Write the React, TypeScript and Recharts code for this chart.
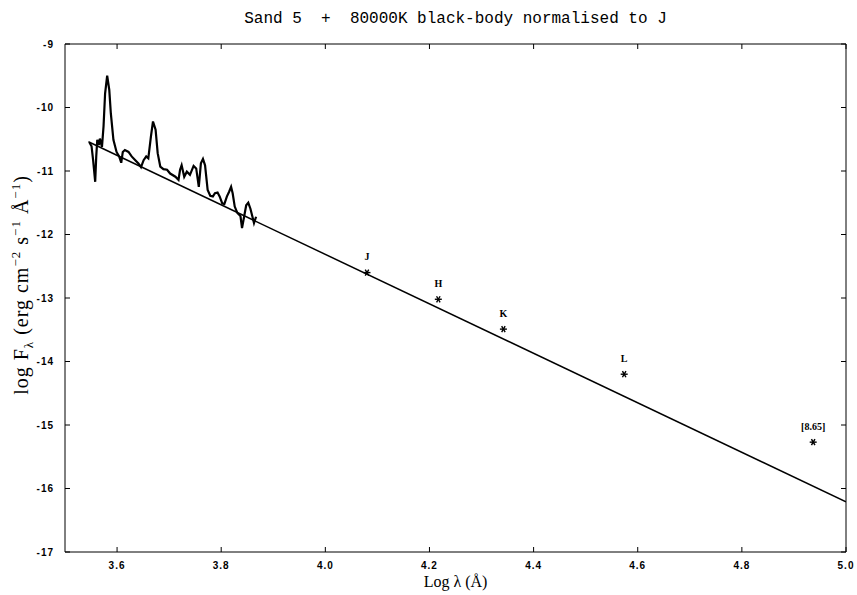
import { ComposedChart, Line, Scatter, XAxis, YAxis, LabelList } from 'recharts'

// spectrum of Sand 5 (log lambda / log F_lambda)
const specLogLambda = [
  3.547, 3.551, 3.554, 3.558, 3.560, 3.562, 3.565, 3.567, 3.571, 3.574, 3.577, 3.581, 3.585, 3.588,
  3.593, 3.599, 3.604, 3.608, 3.611, 3.615, 3.622, 3.628, 3.635, 3.641, 3.646, 3.651, 3.656, 3.660,
  3.665, 3.669, 3.674, 3.678, 3.683, 3.689, 3.696, 3.702, 3.712, 3.718, 3.721, 3.724, 3.729, 3.734,
  3.740, 3.747, 3.752, 3.757, 3.761, 3.765, 3.769, 3.774, 3.779, 3.784, 3.788, 3.793, 3.797, 3.802,
  3.806, 3.811, 3.815, 3.819, 3.822, 3.826, 3.831, 3.837, 3.840, 3.844, 3.848, 3.852, 3.856, 3.860,
  3.863, 3.867,
]
const specLogFlux = [
  -10.55, -10.61, -10.83, -11.17, -10.77, -10.51, -10.59, -10.49, -10.62, -10.30, -9.78, -9.50, -9.72, -10.09,
  -10.51, -10.70, -10.77, -10.87, -10.70, -10.67, -10.70, -10.77, -10.83, -10.88, -10.94, -10.83, -10.77, -10.80,
  -10.46, -10.22, -10.35, -10.72, -10.93, -10.97, -10.98, -11.04, -11.09, -11.14, -10.98, -10.91, -11.09, -11.01,
  -11.06, -10.92, -10.96, -11.25, -10.88, -10.81, -10.91, -11.30, -11.39, -11.40, -11.35, -11.34, -11.40, -11.51,
  -11.52, -11.40, -11.33, -11.25, -11.35, -11.56, -11.66, -11.71, -11.90, -11.72, -11.54, -11.50, -11.59, -11.72,
  -11.82, -11.72,
]

// 80000K black-body normalised to J
const bbLogLambda = [3.545, 5.0]
const bbLogFlux = [-10.54, -16.21]

// photometry
const bandNames = ['J', 'H', 'K', 'L', '[8.65]']
const bandLogLambda = [4.08, 4.217, 4.342, 4.574, 4.937]
const bandLogFlux = [-12.6, -13.02, -13.49, -14.2, -15.27]

const xTicks = [3.6, 3.8, 4.0, 4.2, 4.4, 4.6, 4.8, 5.0]
const yTicks = [-17, -16, -15, -14, -13, -12, -11, -10, -9]

const spectrum = specLogLambda.map((x, i) => ({ x, y: specLogFlux[i] }))
const blackBody = bbLogLambda.map((x, i) => ({ x, y: bbLogFlux[i] }))
const photometry = bandNames.map((name, i) => ({ name, x: bandLogLambda[i], y: bandLogFlux[i] }))

const tickFont = { fontFamily: 'Liberation Sans, Arial, sans-serif', fontSize: 10, fontWeight: 700, fill: '#000', letterSpacing: 1 }
const TL = 5 // inward tick length

// ticks point into the plot; tickSize/tickMargin are 0 so x/y sit on the axis line
function BottomTick({ x, y, payload }: any) {
  return (
    <g>
      <line x1={x} y1={y} x2={x} y2={y - TL} stroke="#000" />
      <text x={x} y={y + 17} textAnchor="middle" style={tickFont}>{Number(payload.value).toFixed(1)}</text>
    </g>
  )
}
function TopTick({ x, y }: any) {
  return <line x1={x} y1={y} x2={x} y2={y + TL} stroke="#000" />
}
function LeftTick({ x, y, payload }: any) {
  return (
    <g>
      <line x1={x} y1={y} x2={x + TL} y2={y} stroke="#000" />
      <text x={x - 11} y={y + 3.5} textAnchor="end" style={tickFont}>{String(payload.value)}</text>
    </g>
  )
}
function RightTick({ x, y }: any) {
  return <line x1={x} y1={y} x2={x - TL} y2={y} stroke="#000" />
}

function Asterisk(props: any) {
  const { cx, cy } = props
  const r = 3.5
  const dx = r * 0.5
  const dy = r * 0.87
  return (
    <g stroke="#000" strokeWidth={1.4}>
      <line x1={cx - r} y1={cy} x2={cx + r} y2={cy} />
      <line x1={cx - dx} y1={cy - dy} x2={cx + dx} y2={cy + dy} />
      <line x1={cx - dx} y1={cy + dy} x2={cx + dx} y2={cy - dy} />
    </g>
  )
}

export default function App() {
  return (
    <div style={{ position: 'absolute', left: 0, top: 0, width: 857, height: 595, background: '#fff' }}>
      <div
        style={{
          position: 'absolute', left: 65, top: 10, width: 781, textAlign: 'center',
          fontFamily: 'Liberation Mono, DejaVu Sans Mono, monospace', fontSize: 16, color: '#000', whiteSpace: 'pre',
        }}
      >
        Sand 5  +  80000K black-body normalised to J
      </div>
      <ComposedChart width={857} height={595} margin={{ top: 43, right: 10, bottom: 0, left: 0 }}>
        <XAxis
          xAxisId="b"
          dataKey="x"
          type="number"
          domain={[3.5, 5.0]}
          ticks={xTicks}
          height={43}
          tickSize={0}
          tickMargin={0}
          tickLine={false}
          tick={<BottomTick />}
          stroke="#000"
          allowDataOverflow
        />
        <XAxis
          xAxisId="t"
          orientation="top"
          dataKey="x"
          type="number"
          domain={[3.5, 5.0]}
          ticks={xTicks}
          height={1}
          tickSize={0}
          tickMargin={0}
          tickLine={false}
          tick={<TopTick />}
          stroke="#000"
          allowDataOverflow
        />
        <YAxis
          yAxisId="l"
          dataKey="y"
          type="number"
          domain={[-17, -9]}
          ticks={yTicks}
          width={65}
          tickSize={0}
          tickMargin={0}
          tickLine={false}
          tick={<LeftTick />}
          stroke="#000"
          allowDataOverflow
        />
        <YAxis
          yAxisId="r"
          orientation="right"
          dataKey="y"
          type="number"
          domain={[-17, -9]}
          ticks={yTicks}
          width={1}
          tickSize={0}
          tickMargin={0}
          tickLine={false}
          tick={<RightTick />}
          stroke="#000"
          allowDataOverflow
        />
        <Line
          xAxisId="b"
          yAxisId="l"
          data={blackBody}
          dataKey="y"
          type="linear"
          stroke="#000"
          strokeWidth={1.5}
          dot={false}
          isAnimationActive={false}
        />
        <Line
          xAxisId="t"
          yAxisId="r"
          data={spectrum}
          dataKey="y"
          type="linear"
          stroke="#000"
          strokeWidth={2.2}
          dot={false}
          isAnimationActive={false}
        />
        <Scatter xAxisId="b" yAxisId="l" data={photometry} dataKey="y" shape={<Asterisk />} isAnimationActive={false}>
          <LabelList
            dataKey="name"
            position="top"
            offset={8}
            style={{ fontFamily: 'Liberation Serif, Times New Roman, serif', fontSize: 10, fontWeight: 700, fill: '#000' }}
          />
        </Scatter>
      </ComposedChart>
      <div
        style={{
          position: 'absolute', left: 65, top: 573, width: 781, textAlign: 'center',
          fontFamily: 'Liberation Serif, Times New Roman, serif', fontSize: 16, color: '#000',
        }}
      >
        Log λ (Å)
      </div>
      <div
        style={{
          position: 'absolute', left: 22, top: 285, transform: 'translate(-50%, -50%) rotate(-90deg)',
          fontFamily: 'Liberation Serif, Times New Roman, serif', fontSize: 20, letterSpacing: 1, color: '#000', whiteSpace: 'nowrap', lineHeight: 1,
        }}
      >
        log F<sub style={{ fontSize: 13 }}>λ</sub> (erg cm<sup style={{ fontSize: 13 }}>−2</sup> s<sup style={{ fontSize: 13 }}>−1</sup> Å<sup style={{ fontSize: 13 }}>−1</sup>)
      </div>
    </div>
  )
}
